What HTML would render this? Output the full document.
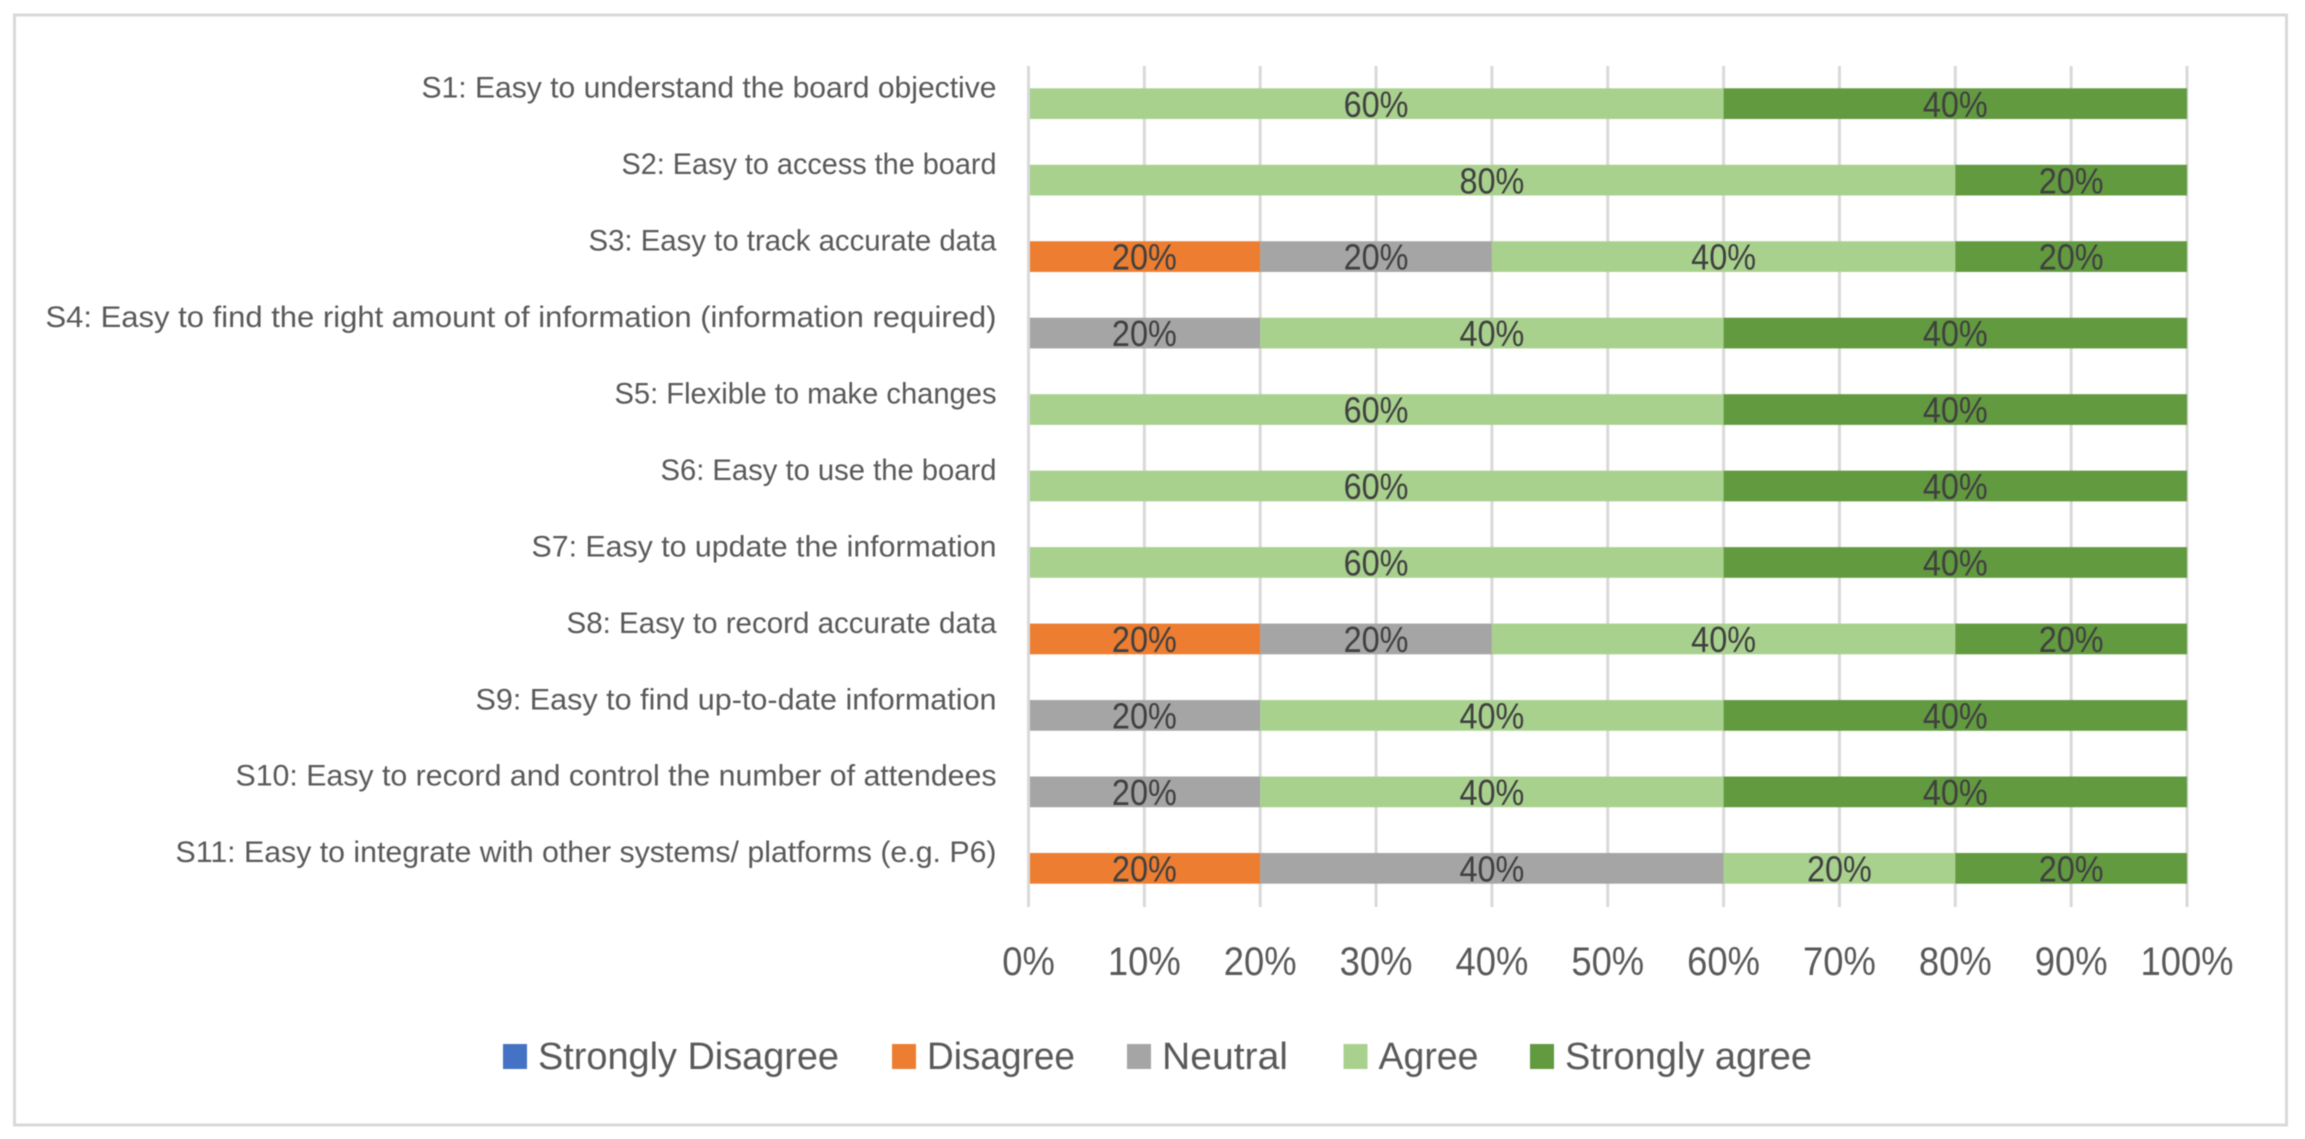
<!DOCTYPE html>
<html lang="en">
<head>
<meta charset="utf-8">
<title>Survey responses stacked bar chart</title>
<style>
html,body{margin:0;padding:0;background:#fff;width:2305px;height:1139px;overflow:hidden}
svg{display:block;font-family:"Liberation Sans",sans-serif;filter:blur(0.4px)}
</style>
</head>
<body>
<svg id="chart" xmlns="http://www.w3.org/2000/svg" width="2305" height="1139" viewBox="0 0 2305 1139">
<rect x="14.5" y="15" width="2272" height="1110" fill="#fff" stroke="#d9d9d9" stroke-width="3"/>
</svg>
<script>
const categories = [
  "S1: Easy to understand the board objective",
  "S2: Easy to access the board",
  "S3: Easy to track accurate data",
  "S4: Easy to find the right amount of information (information required)",
  "S5: Flexible to make changes",
  "S6: Easy to use the board",
  "S7: Easy to update the information",
  "S8: Easy to record accurate data",
  "S9: Easy to find up-to-date information",
  "S10: Easy to record and control the number of attendees",
  "S11: Easy to integrate with other systems/ platforms (e.g. P6)"
];
const stronglyDisagree = [0,0,0,0,0,0,0,0,0,0,0];
const disagree = [0,0,20,0,0,0,0,20,0,0,20];
const neutral = [0,0,20,20,0,0,0,20,20,20,40];
const agree = [60,80,40,40,60,60,60,40,40,40,20];
const stronglyAgree = [40,20,20,40,40,40,40,20,40,40,20];
const seriesNames = ["Strongly Disagree","Disagree","Neutral","Agree","Strongly agree"];
const xTicks = [0,10,20,30,40,50,60,70,80,90,100];

const NS = "http://www.w3.org/2000/svg";
const svg = document.getElementById("chart");
const seriesValues = [stronglyDisagree, disagree, neutral, agree, stronglyAgree];
const seriesColors = ["#4472c4","#ed7d31","#a5a5a5","#a9d18e","#629a3f"];
const legendSwatchX = [503,892,1127,1343.5,1530];
const legendTextWidth = [301,148,126,100,247];
const categoryTextWidth = [575,375,408,951,382,336,465,430,521,761,821];

function xScale(pct){ return 1028.5 + (pct / 100) * 1158.5; }
function rowTop(i){ return 88.3 + i * 76.47; }
const BAR_H = 30.7;

function make(tag, attrs){
  const el = document.createElementNS(NS, tag);
  for (const k in attrs) el.setAttribute(k, attrs[k]);
  return el;
}
function makeText(str, x, y, size, sx, anchor, fill, width){
  const t = make("text", {
    transform: "translate(" + x + "," + y + ") scale(" + sx + ",1)",
    "font-size": size, "text-anchor": anchor, fill: fill
  });
  t.textContent = str;
  if (width) { t.setAttribute("textLength", width / sx); t.setAttribute("lengthAdjust", "spacingAndGlyphs"); }
  return t;
}

// gridlines (the 0% axis line is drawn above the bars)
xTicks.filter(function(v){ return v !== 0; }).forEach(function(v){
  const g = make("line", {x1:xScale(v), x2:xScale(v), y1:66, y2:907, stroke:"#d9d9d9", "stroke-width":3});
  
  
  svg.appendChild(g);
});

// bars
categories.forEach(function(cat, i){
  let cum = 0;
  seriesValues.forEach(function(values, s){
    const v = values[i];
    if (v > 0) {
      const r = make("rect", {x:xScale(cum), y:rowTop(i), width:xScale(cum + v) - xScale(cum), height:BAR_H, fill:seriesColors[s]});
      
      
      svg.appendChild(r);
    }
    cum += v;
  });
});

// vertical axis line
const axisLine = make("line", {x1:xScale(0), x2:xScale(0), y1:66, y2:907, stroke:"#d9d9d9", "stroke-width":3});


svg.appendChild(axisLine);

// data labels
categories.forEach(function(cat, i){
  let cum = 0;
  seriesValues.forEach(function(values, s){
    const v = values[i];
    if (v > 0) {
      const l = makeText(v + "%", xScale(cum + v / 2), rowTop(i) + 28.5, 36, 0.9, "middle", "#404040");
      
      
      svg.appendChild(l);
    }
    cum += v;
  });
});

// category labels
categories.forEach(function(cat, i){
  const c = makeText(cat, 996.5, rowTop(i) + 9.2, 30, 1, "end", "#595959", categoryTextWidth[i]);
  
  
  svg.appendChild(c);
});

// x tick labels
xTicks.forEach(function(v){
  const t = makeText(v + "%", xScale(v), 975, 40, 0.91, "middle", "#595959");
  
  
  svg.appendChild(t);
});

// legend
seriesNames.forEach(function(name, s){
  const sw = make("rect", {x:legendSwatchX[s], y:1044, width:24, height:25, fill:seriesColors[s]});
  
  
  svg.appendChild(sw);
  const lt = makeText(name, legendSwatchX[s] + 35, 1069, 38, 0.9, "start", "#595959", legendTextWidth[s]);
  
  
  svg.appendChild(lt);
});
</script>
</body>
</html>
